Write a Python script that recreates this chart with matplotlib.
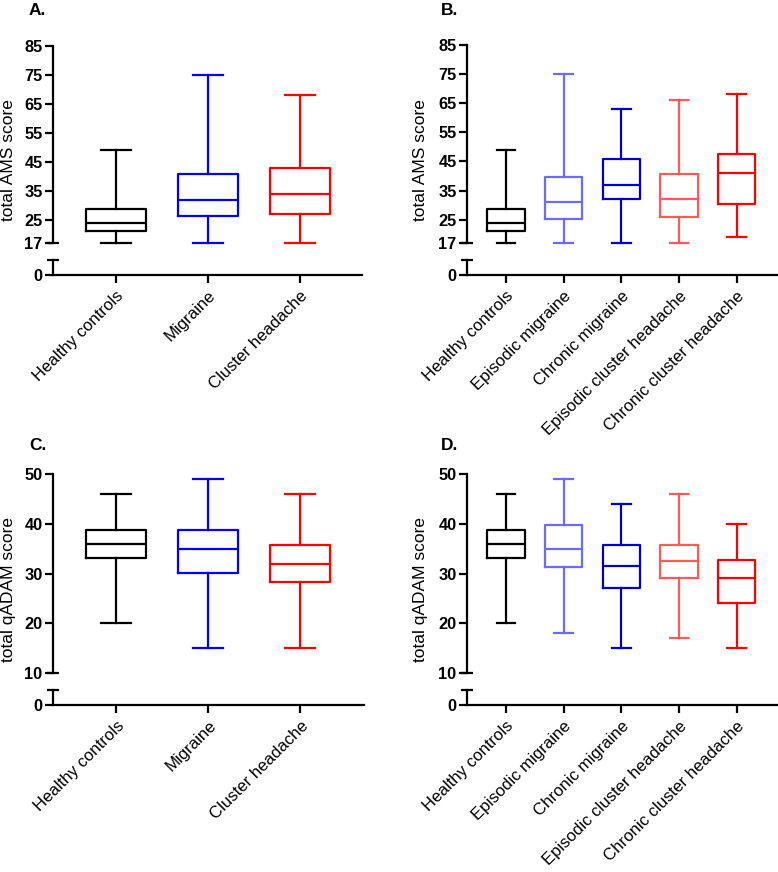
import matplotlib
matplotlib.use("Agg")
import matplotlib.pyplot as plt

plt.rcParams['font.family'] = ['Liberation Sans', 'DejaVu Sans']

# ---------------- data ----------------
groups3 = ["Healthy controls", "Migraine", "Cluster headache"]
groups5 = ["Healthy controls", "Episodic migraine", "Chronic migraine",
           "Episodic cluster headache", "Chronic cluster headache"]
colors3 = ["#000000", "#0000FF", "#FF0000"]
colors5 = ["#000000", "#6B6BFF", "#0000CC", "#FF5A5A", "#FF0000"]

ams3_lo = [17, 17, 17]
ams3_q1 = [21, 26.4, 27]
ams3_med = [24, 32, 34]
ams3_q3 = [28.6, 40.8, 42.8]
ams3_hi = [49, 75, 68]

ams5_lo = [17, 17, 17, 17, 19]
ams5_q1 = [21, 25.3, 32.2, 26, 30.3]
ams5_med = [24, 31, 37, 32, 41]
ams5_q3 = [28.6, 39.8, 45.8, 40.7, 47.6]
ams5_hi = [49, 75, 63, 66, 68]

adam3_lo = [20, 15, 15]
adam3_q1 = [33.2, 30.2, 28.2]
adam3_med = [36, 35, 32]
adam3_q3 = [38.8, 38.8, 35.8]
adam3_hi = [46, 49, 46]

adam5_lo = [20, 18, 15, 17, 15]
adam5_q1 = [33.2, 31.3, 27.1, 29.1, 24.1]
adam5_med = [36, 35, 31.5, 32.6, 29]
adam5_q3 = [38.8, 39.8, 35.8, 35.8, 32.8]
adam5_hi = [46, 49, 44, 46, 40]

ams_ticks = [17, 25, 35, 45, 55, 65, 75, 85]
adam_ticks = [10, 20, 30, 40, 50]

# ---------------- figure ----------------
W, H = 778, 872
fig = plt.figure(figsize=(W / 100, H / 100), dpi=100)

LW = 1.6


def px_rect(x0, x1, ytop, ybot):
    return [x0 / W, 1 - ybot / H, (x1 - x0) / W, (ybot - ytop) / H]


def panel(x0, x1, ytop, ybreak, ycap, yzero, groups, colors, lo, q1, med, q3, hi,
          ticks, ylabel, letter, letter_xy, xlim):
    ax = fig.add_axes(px_rect(x0, x1, ytop, ybreak))
    axb = fig.add_axes(px_rect(x0, x1, ycap, yzero))
    for a in (ax, axb):
        a.set_facecolor('none')
        for s in ('top', 'right'):
            a.spines[s].set_visible(False)
        a.spines['left'].set_linewidth(LW)
        a.set_xlim(*xlim)
    ax.spines['bottom'].set_visible(False)
    ax.tick_params(axis='x', bottom=False, labelbottom=False)
    ax.set_ylim(ticks[0], ticks[-1])
    ax.set_yticks(ticks)
    ax.tick_params(axis='y', length=5.5, width=LW, pad=2, labelsize=11.8)
    for lab in ax.get_yticklabels():
        lab.set_fontweight('bold')
    # break marks (centered)
    ax.plot([0], [0], transform=ax.transAxes, marker='_', markersize=8,
            mew=LW, color='black', clip_on=False)

    axb.set_ylim(0, 1)
    axb.set_yticks([0])
    axb.set_yticklabels(['0'], fontweight='bold')
    axb.tick_params(axis='y', length=5.5, width=LW, pad=2, labelsize=11.8)
    axb.spines['bottom'].set_linewidth(LW)
    axb.plot([0], [1], transform=axb.transAxes, marker='_', markersize=8,
             mew=LW, color='black', clip_on=False)
    pos = list(range(len(groups)))
    axb.set_xticks(pos)
    axb.set_xticklabels(groups, rotation=45, ha='right', va='top',
                        rotation_mode='anchor', fontsize=12.1)
    axb.tick_params(axis='x', length=6, width=LW, pad=3.5)

    for i in pos:
        st = [dict(med=med[i], q1=q1[i], q3=q3[i], whislo=lo[i], whishi=hi[i],
                   fliers=[])]
        c = colors[i]
        art = ax.bxp(st, positions=[i], widths=0.65, showfliers=False,
                     boxprops=dict(color=c, linewidth=LW),
                     whiskerprops=dict(color=c, linewidth=LW),
                     capprops=dict(color=c, linewidth=LW),
                     medianprops=dict(color=c, linewidth=LW),
                     manage_ticks=False)
        for k in art:
            for a in art[k]:
                a.set_clip_on(False)
    ax.set_xlim(*xlim)

    # y label centered over full axis
    fig.text(letter_xy[2] / W, 1 - ((ytop + yzero) / 2) / H, ylabel,
             rotation=90, ha='center', va='center', fontsize=12.5)
    fig.text(letter_xy[0] / W, 1 - letter_xy[1] / H, letter,
             fontweight='bold', fontsize=12.5, ha='left', va='baseline')


panel(53, 362, 46, 243, 260, 275, groups3, colors3,
      ams3_lo, ams3_q1, ams3_med, ams3_q3, ams3_hi,
      ams_ticks, "total AMS score", "A.", (29, 15, 9), (-0.685, 2.674))
panel(467, 777, 45, 243, 260, 275, groups5, colors5,
      ams5_lo, ams5_q1, ams5_med, ams5_q3, ams5_hi,
      ams_ticks, "total AMS score", "B.", (441, 15, 421), (-0.676, 4.70))
panel(53, 364, 474, 673, 690, 705, groups3, colors3,
      adam3_lo, adam3_q1, adam3_med, adam3_q3, adam3_hi,
      adam_ticks, "total qADAM score", "C.", (29, 450, 9), (-0.685, 2.69))
panel(467, 777, 474, 673, 690, 705, groups5, colors5,
      adam5_lo, adam5_q1, adam5_med, adam5_q3, adam5_hi,
      adam_ticks, "total qADAM score", "D.", (441, 450, 421), (-0.676, 4.70))

fig.savefig("out.png", dpi=100)
